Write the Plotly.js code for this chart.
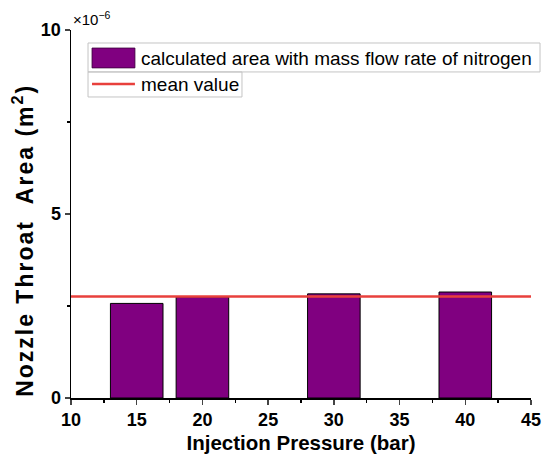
<!DOCTYPE html>
<html><head><meta charset="utf-8">
<script src="https://cdn.plot.ly/plotly-3.0.1.min.js"></script>
<style>html,body{margin:0;padding:0;background:#fff}</style>
</head><body><div id="chart" style="width:545px;height:464px"></div>
<script>
// values in units of 1e-6 m^2
const pressures = [15, 20, 30, 40];
const areas = [2.57, 2.75, 2.83, 2.88];
const meanX = [10, 45];
const meanY = [2.76, 2.76];
const yTicks = [0, 5, 10];
const xTicks = [10, 15, 20, 25, 30, 35, 40, 45];
const barName = 'calculated area with mass flow rate of nitrogen';
const lineName = 'mean value';
const barColor = '#800080';
const lineColor = '#e8403c';

const font = {family: 'Liberation Sans, Arial, sans-serif', color: '#000'};
const traces = [
  {type: 'bar', x: pressures, y: areas, width: 4, name: barName,
   marker: {color: barColor, line: {color: '#000', width: 1}}},
  {type: 'scatter', mode: 'lines', x: meanX, y: meanY, name: lineName,
   line: {color: lineColor, width: 2.5}}
];
const layout = {
  width: 545, height: 464,
  margin: {l: 71, r: 14, t: 30, b: 66},
  paper_bgcolor: '#fff', plot_bgcolor: '#fff',
  font: Object.assign({size: 14}, font),
  showlegend: false,
  xaxis: {range: [10, 45], tickvals: xTicks, ticks: 'outside', ticklen: 5, tickwidth: 1.5,
    showline: true, linecolor: '#000', linewidth: 1.5, showgrid: false, zeroline: false,
    tickfont: Object.assign({size: 18, weight: 'bold'}, font),
    minor: {dtick: 2.5, tick0: 10, ticks: 'outside', ticklen: 3, tickcolor: '#000', showgrid: false},
    title: {text: '<b>Injection Pressure (bar)</b>', font: Object.assign({size: 20.5}, font), standoff: 6}},
  yaxis: {range: [0, 10], tickvals: yTicks, ticks: 'outside', ticklen: 5, tickwidth: 1.5,
    showline: true, linecolor: '#000', linewidth: 1.5, showgrid: false, zeroline: false,
    tickfont: Object.assign({size: 18, weight: 'bold'}, font),
    minor: {dtick: 2.5, tick0: 0, ticks: 'outside', ticklen: 3, tickcolor: '#000', showgrid: false}},
  shapes: [
    {type: 'rect', xref: 'paper', yref: 'paper', x0: 0.037, x1: 1.0196, y0: 0.886, y1: 0.9647,
     line: {color: '#c4c4c4', width: 1}, fillcolor: 'rgba(0,0,0,0)'},
    {type: 'rect', xref: 'paper', yref: 'paper', x0: 0.037, x1: 0.3717, y0: 0.818, y1: 0.886,
     line: {color: '#c4c4c4', width: 1}, fillcolor: 'rgba(0,0,0,0)'},
    {type: 'rect', xref: 'paper', yref: 'paper', x0: 0.0457, x1: 0.139, y0: 0.897, y1: 0.951,
     line: {color: '#3a003a', width: 0.8}, fillcolor: barColor},
    {type: 'line', xref: 'paper', yref: 'paper', x0: 0.0457, x1: 0.139, y0: 0.853, y1: 0.853,
     line: {color: lineColor, width: 2.5}}
  ],
  annotations: [
    {xref: 'paper', yref: 'paper', x: 0.0, y: 1.0, xanchor: 'left', yanchor: 'bottom',
     text: '×10<sup>−6</sup>', showarrow: false, font: Object.assign({size: 15}, font)},
    {xref: 'paper', yref: 'paper', x: 0.148, y: 0.9239, xanchor: 'left', yanchor: 'middle',
     text: barName, showarrow: false, font: Object.assign({size: 19}, font)},
    {xref: 'paper', yref: 'paper', x: 0.148, y: 0.851, xanchor: 'left', yanchor: 'middle',
     text: lineName, showarrow: false, font: Object.assign({size: 19}, font)},
    {xref: 'paper', yref: 'paper', x: -0.1, y: 0.427, xanchor: 'center', yanchor: 'middle',
     xshift: -2, textangle: -90, text: '<b>Nozzle Throat  Area (m<sup>2</sup>)</b>', showarrow: false,
     font: Object.assign({size: 23}, font)}
  ]
};
Plotly.newPlot('chart', traces, layout, {displayModeBar: false, staticPlot: true}).then(function () {
  document.querySelectorAll('#chart .annotation-text').forEach(function (t) {
    if (t.textContent.indexOf('Nozzle') === 0) t.style.letterSpacing = '2px';
  });
});
</script></body></html>
